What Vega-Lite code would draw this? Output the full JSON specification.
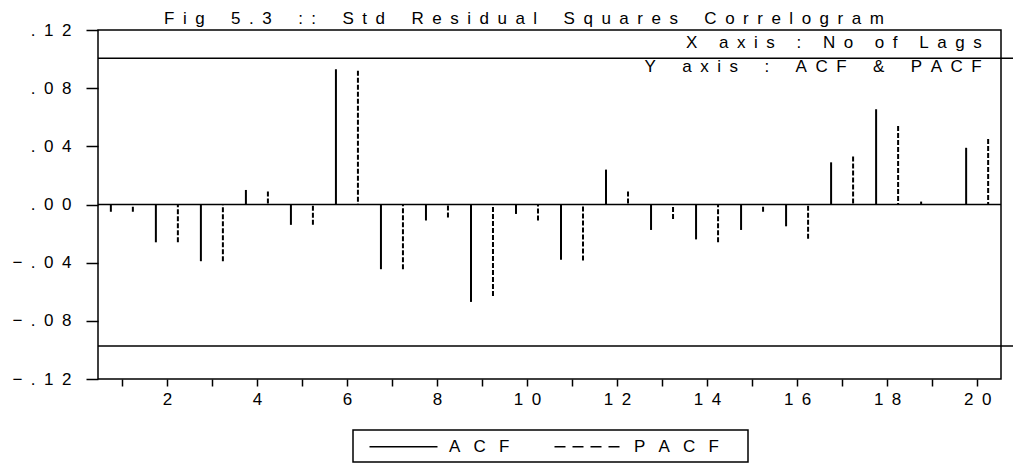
{
  "$schema": "https://vega.github.io/schema/vega-lite/v6.json",
  "autosize": "none",
  "width": 903,
  "height": 349,
  "padding": {"left": 98, "top": 30, "right": 12, "bottom": 91},
  "background": "white",
  "config": {
    "font": "Liberation Sans",
    "view": {"stroke": "black", "strokeWidth": 1.5},
    "axis": {"domain": false, "grid": false, "tickColor": "black", "tickWidth": 1.5, "labelColor": "black", "labelFont": "Liberation Sans", "labelFontSize": 17, "title": null}
  },
  "title": {
    "text": "F\u2002i\u2002g\u2002\u2002\u00a0\u00a05\u2002.\u20023\u2002\u2002\u00a0\u00a0:\u2002:\u2002\u2002\u00a0\u00a0S\u2002t\u2002d\u2002\u2002\u00a0\u00a0R\u2002e\u2002s\u2002i\u2002d\u2002u\u2002a\u2002l\u2002\u2002\u00a0\u00a0S\u2002q\u2002u\u2002a\u2002r\u2002e\u2002s\u2002\u2002\u00a0\u00a0C\u2002o\u2002r\u2002r\u2002e\u2002l\u2002o\u2002g\u2002r\u2002a\u2002m",
    "anchor": "start", "frame": "group", "dx": 66, "dy": 26, "offset": 2, "baseline": "bottom",
    "font": "Liberation Sans", "fontSize": 17, "fontWeight": "normal", "color": "black"
  },
  "data": {"values": [
    {"lag": 1, "type": "ACF", "value": -0.005}, {"lag": 1, "type": "PACF", "value": -0.005},
    {"lag": 2, "type": "ACF", "value": -0.026}, {"lag": 2, "type": "PACF", "value": -0.026},
    {"lag": 3, "type": "ACF", "value": -0.039}, {"lag": 3, "type": "PACF", "value": -0.039},
    {"lag": 4, "type": "ACF", "value": 0.010}, {"lag": 4, "type": "PACF", "value": 0.009},
    {"lag": 5, "type": "ACF", "value": -0.014}, {"lag": 5, "type": "PACF", "value": -0.014},
    {"lag": 6, "type": "ACF", "value": 0.093}, {"lag": 6, "type": "PACF", "value": 0.092},
    {"lag": 7, "type": "ACF", "value": -0.0445}, {"lag": 7, "type": "PACF", "value": -0.0445},
    {"lag": 8, "type": "ACF", "value": -0.011}, {"lag": 8, "type": "PACF", "value": -0.009},
    {"lag": 9, "type": "ACF", "value": -0.067}, {"lag": 9, "type": "PACF", "value": -0.063},
    {"lag": 10, "type": "ACF", "value": -0.0065}, {"lag": 10, "type": "PACF", "value": -0.011},
    {"lag": 11, "type": "ACF", "value": -0.038}, {"lag": 11, "type": "PACF", "value": -0.0385},
    {"lag": 12, "type": "ACF", "value": 0.024}, {"lag": 12, "type": "PACF", "value": 0.009},
    {"lag": 13, "type": "ACF", "value": -0.0175}, {"lag": 13, "type": "PACF", "value": -0.010},
    {"lag": 14, "type": "ACF", "value": -0.024}, {"lag": 14, "type": "PACF", "value": -0.026},
    {"lag": 15, "type": "ACF", "value": -0.0175}, {"lag": 15, "type": "PACF", "value": -0.005},
    {"lag": 16, "type": "ACF", "value": -0.015}, {"lag": 16, "type": "PACF", "value": -0.0235},
    {"lag": 17, "type": "ACF", "value": 0.029}, {"lag": 17, "type": "PACF", "value": 0.033},
    {"lag": 18, "type": "ACF", "value": 0.0655}, {"lag": 18, "type": "PACF", "value": 0.054},
    {"lag": 19, "type": "ACF", "value": 0.002}, {"lag": 19, "type": "PACF", "value": 0.0},
    {"lag": 20, "type": "ACF", "value": 0.039}, {"lag": 20, "type": "PACF", "value": 0.045}
  ]},
  "layer": [
    {
      "data": {"values": [{"zero": 0}]},
      "mark": {"type": "rule", "color": "black", "strokeWidth": 1.5},
      "encoding": {
        "y": {"field": "zero", "type": "quantitative", "scale": {"domain": [-0.12, 0.12], "nice": false, "zero": false},
              "axis": {"values": [-0.12, -0.08, -0.04, 0, 0.04, 0.08, 0.12], "format": ".2f", "tickSize": 12, "labelPadding": 15, "labelFlush": false, "labelOverlap": false,
                       "labelExpr": "join(split(replace(datum.label, '0.', '.'), ''), '\u2002')"}}
      }
    },
    {
      "data": {"values": [{"bound": 0.1005}, {"bound": -0.0973}]},
      "mark": {"type": "rule", "color": "black", "strokeWidth": 1.5},
      "encoding": {
        "x": {"datum": 0.47, "type": "quantitative", "scale": {"domain": [0.47, 20.53], "nice": false, "zero": false}},
        "x2": {"datum": 21.5},
        "y": {"field": "bound", "type": "quantitative"}
      }
    },
    {
      "mark": {"type": "rule", "color": "black", "strokeWidth": 1.5},
      "encoding": {
        "x": {"field": "lag", "type": "quantitative", "scale": {"domain": [0.47, 20.53], "nice": false, "zero": false},
              "axis": {"values": [1,2,3,4,5,6,7,8,9,10,11,12,13,14,15,16,17,18,19,20], "tickSize": 7, "labelPadding": 5, "labelDx": -5, "labelFlush": false, "labelOverlap": false, "labelBound": false,
                       "labelExpr": "datum.value % 2 === 0 ? join(split(datum.label, ''), '\u2002') : ''"}},
        "y": {"datum": 0},
        "y2": {"datum": 0},
        "strokeDash": {"field": "type", "type": "nominal", "scale": {"domain": ["ACF", "PACF"], "range": [[1, 0], [11, 7]]},
          "legend": {"orient": "none", "legendX": 255, "legendY": 400, "direction": "horizontal", "title": null,
            "symbolType": "M0,0H8", "symbolSize": 289, "symbolStrokeWidth": 1.5, "symbolStrokeColor": "black", "symbolFillColor": "transparent", "symbolOpacity": 1,
            "labelFont": "Liberation Sans", "labelFontSize": 17, "labelColor": "black", "labelOffset": 70, "columnPadding": 35, "padding": 7, "strokeColor": "black",
            "labelExpr": "datum.label === 'ACF' ? 'A\u2002\u00a0C\u2002\u00a0F' : 'P\u2002\u00a0A\u2002\u00a0C\u2002\u00a0F\u2002\u2002\u00a0\u200b'",
            "encode": {"legend": {"update": {"strokeWidth": {"value": 1.5}}}}}}
      }
    },
    {
      "transform": [{"filter": "datum.type === 'ACF'"}],
      "mark": {"type": "rule", "color": "black", "strokeWidth": 2, "xOffset": -11},
      "encoding": {
        "x": {"field": "lag", "type": "quantitative"},
        "y": {"field": "value", "type": "quantitative"},
        "y2": {"datum": 0}
      }
    },
    {
      "transform": [{"filter": "datum.type === 'PACF'"}],
      "mark": {"type": "rule", "color": "black", "strokeWidth": 2, "xOffset": 11, "strokeDash": [5, 2]},
      "encoding": {
        "x": {"field": "lag", "type": "quantitative"},
        "y": {"field": "value", "type": "quantitative"},
        "y2": {"datum": 0}
      }
    },
    {
      "data": {"values": [{}]},
      "mark": {"type": "text", "align": "right", "baseline": "alphabetic", "font": "Liberation Sans", "fontSize": 17, "color": "black"},
      "encoding": {
        "x": {"datum": 20.1, "type": "quantitative"},
        "y": {"datum": 0.1076, "type": "quantitative"},
        "text": {"value": "X\u2002\u2002\u00a0a\u2002x\u2002i\u2002s\u2002\u2002\u00a0:\u2002\u2002\u00a0N\u2002o\u2002\u2002\u00a0o\u2002f\u2002\u2002\u00a0L\u2002a\u2002g\u2002s"}
      }
    },
    {
      "data": {"values": [{}]},
      "mark": {"type": "text", "align": "right", "baseline": "alphabetic", "font": "Liberation Sans", "fontSize": 17, "color": "black"},
      "encoding": {
        "x": {"datum": 20.1, "type": "quantitative"},
        "y": {"datum": 0.0913, "type": "quantitative"},
        "text": {"value": "Y\u2002\u2002\u00a0\u00a0a\u2002x\u2002i\u2002s\u2002\u2002\u00a0\u00a0:\u2002\u2002\u00a0\u00a0A\u2002C\u2002F\u2002\u2002\u00a0\u00a0&\u2002\u2002\u00a0\u00a0P\u2002A\u2002C\u2002F"}
      }
    }
  ]
}
